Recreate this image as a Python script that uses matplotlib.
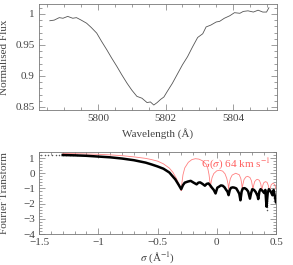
import numpy as np
import matplotlib
matplotlib.use("Agg")
import matplotlib.pyplot as plt
from matplotlib.ticker import MultipleLocator, FuncFormatter

# spectrum around the line
wave = [5798.57, 5798.7, 5798.85, 5798.96, 5799.1, 5799.25, 5799.36, 5799.5,
        5799.66, 5799.8, 5799.96, 5800.1, 5800.26, 5800.4, 5800.56, 5800.7,
        5800.86, 5801.0, 5801.15, 5801.3, 5801.45, 5801.55, 5801.65, 5801.75,
        5801.85, 5801.95, 5802.05, 5802.2, 5802.35, 5802.5, 5802.65, 5802.8,
        5802.95, 5803.1, 5803.2, 5803.34, 5803.5, 5803.6, 5803.74, 5803.9,
        5804.04, 5804.2, 5804.3, 5804.44, 5804.6, 5804.74, 5804.88, 5804.99,
        5805.06]
flux = [0.989, 0.990, 0.994, 0.993, 0.996, 0.993, 0.994, 0.990,
        0.985, 0.978, 0.969, 0.956, 0.942, 0.929, 0.915, 0.902,
        0.888, 0.877, 0.867, 0.864, 0.857, 0.858, 0.853, 0.857,
        0.862, 0.866, 0.875, 0.888, 0.903, 0.918, 0.931, 0.947,
        0.962, 0.968, 0.979, 0.982, 0.987, 0.988, 0.993, 0.997,
        1.002, 1.001, 1.004, 1.005, 1.003, 1.006, 1.003, 1.003,
        1.010]

# Fourier transform of the profile (log amplitude)
ft_sig = [-1.3, -1.2, -1.1, -1.0, -0.9, -0.8, -0.7, -0.6, -0.55, -0.5,
          -0.45, -0.4, -0.35, -0.32, -0.3, -0.285, -0.27, -0.245, -0.22,
          -0.195, -0.17, -0.155, -0.14, -0.12, -0.1, -0.085, -0.07, -0.055,
          -0.04, -0.025, -0.01, 0.005, 0.02, 0.035, 0.05, 0.065, 0.08, 0.09,
          0.1, 0.11, 0.12, 0.135, 0.15, 0.165, 0.18, 0.19, 0.2, 0.21, 0.22,
          0.235, 0.25, 0.265, 0.28, 0.29, 0.3, 0.315, 0.33, 0.345, 0.35,
          0.36, 0.37, 0.385, 0.4, 0.41, 0.42, 0.43, 0.44, 0.455, 0.47,
          0.48, 0.49, 0.5]
ft_amp = [1.2, 1.18, 1.15, 1.1, 1.05, 0.97, 0.86, 0.7, 0.58, 0.45,
          0.3, 0.05, -0.4, -0.78, -1.05, -0.78, -0.62, -0.55, -0.5,
          -0.62, -0.73, -0.62, -0.6, -0.7, -0.82, -0.7, -0.67, -0.8,
          -0.96, -1.1, -1.33, -0.95, -0.88, -0.8, -0.82, -0.92, -1.1, -1.2,
          -1.44, -1.1, -0.96, -0.93, -0.95, -1.0, -1.2, -1.35, -1.78, -1.2,
          -1.0, -0.98, -1.05, -1.2, -1.67, -1.3, -1.05, -1.1, -1.25, -1.5,
          -1.7, -1.2, -1.05, -1.15, -1.3, -1.1, -2.2, -1.3, -1.05, -1.2,
          -1.45, -1.1, -1.5, -1.9]

# low-frequency points and scattered points near the end
pts_sig = [-1.48, -1.45, -1.42, -1.39, -1.36, -1.33, -1.30, -1.27, -1.24,
           -1.21, -1.18, 0.42, 0.42, 0.42, 0.42, 0.42, 0.49, 0.49, 0.49]
pts_amp = [1.22, 1.22, 1.22, 1.22, 1.21, 1.21, 1.21, 1.2, 1.2,
           1.2, 1.19, -1.8, -1.95, -2.1, -2.25, -2.4, -1.6, -1.75, -1.9]

# rotational broadening function G(sigma), vsini = 64 km/s
g_sig = [-1.3, -1.2, -1.1, -1.0, -0.9, -0.8, -0.7, -0.6, -0.55, -0.5,
         -0.45, -0.4, -0.37, -0.34, -0.32, -0.305, -0.3,
         -0.295, -0.285, -0.27, -0.24, -0.21, -0.18, -0.15, -0.12, -0.09,
         -0.075, -0.065, -0.058, -0.055,
         -0.05, -0.04, -0.025, 0.0, 0.025, 0.05, 0.07, 0.085, 0.095, 0.1,
         0.105, 0.115, 0.13, 0.16, 0.19, 0.203, 0.21, 0.215,
         0.22, 0.23, 0.245, 0.26, 0.28, 0.293, 0.3, 0.305,
         0.31, 0.32, 0.335, 0.345, 0.36, 0.372, 0.38,
         0.385, 0.395, 0.41, 0.425, 0.437, 0.444,
         0.45, 0.46, 0.475, 0.49, 0.5]
g_amp = [1.3, 1.29, 1.27, 1.25, 1.21, 1.16, 1.08, 0.98, 0.9, 0.8,
         0.62, 0.34, 0.06, -0.35, -0.7, -1.0, -1.15,
         -0.7, -0.1, 0.35, 0.72, 0.9, 0.96, 0.93, 0.82, 0.6,
         0.3, -0.1, -0.55, -0.95,
         -0.7, -0.3, -0.02, 0.16, 0.2, 0.14, -0.04, -0.35, -0.7, -1.05,
         -0.7, -0.35, -0.12, 0.0, -0.1, -0.35, -0.65, -1.05,
         -0.75, -0.42, -0.25, -0.2, -0.28, -0.5, -0.8, -1.1,
         -0.85, -0.55, -0.42, -0.4, -0.47, -0.72, -1.15,
         -0.9, -0.64, -0.55, -0.6, -0.85, -1.2,
         -1.0, -0.75, -0.65, -0.75, -1.05]

plt.rcParams['font.family'] = 'Liberation Serif'
plt.rcParams['font.size'] = 8
plt.rcParams['mathtext.fontset'] = 'stix'
fc = '#444444'

fig = plt.figure(figsize=(2.93, 2.65), dpi=100)
ax1 = fig.add_axes([39/293, 1-110/265, 238/293, 106/265])
ax2 = fig.add_axes([39/293, 1-234/265, 237/293, 82/265])

ax1.plot(wave, flux, color='#555555', lw=0.6)
ax1.set_xlim(5798.25, 5805.3)
ax1.set_ylim(0.845, 1.016)
ax1.xaxis.set_major_locator(MultipleLocator(2))
ax1.xaxis.set_minor_locator(MultipleLocator(0.5))
ax1.yaxis.set_major_locator(MultipleLocator(0.05))
ax1.yaxis.set_minor_locator(MultipleLocator(0.01))
ax1.yaxis.set_major_formatter(FuncFormatter(lambda v, p: '%g' % round(v, 3)))
ax1.set_xlabel('Wavelength (Å)', color=fc)
ax1.set_ylabel('Normalised Flux', color=fc)
ax1.xaxis.set_label_coords(0.5, -0.17)
ax1.yaxis.set_label_coords(-0.125, 0.5)

ax2.plot(g_sig, g_amp, color='#ff8080', lw=0.6)
ax2.plot(ft_sig, ft_amp, color='black', lw=1.8)
ax2.scatter(pts_sig, pts_amp, s=1.2, color='#555555', lw=0)
ax2.text(-0.13, 0.4, r'G($\sigma$) 64 km s$^{-1}$', color='#ff6060', fontsize=8)
ax2.set_xlim(-1.5, 0.5)
ax2.set_ylim(-4, 1.4)
ax2.xaxis.set_major_locator(MultipleLocator(0.5))
ax2.xaxis.set_minor_locator(MultipleLocator(0.1))
ax2.yaxis.set_major_locator(MultipleLocator(1))
ax2.yaxis.set_minor_locator(MultipleLocator(0.2))
ax2.xaxis.set_major_formatter(FuncFormatter(lambda v, p: ('%g' % round(v, 2)).replace('-', '\u2212')))
ax2.yaxis.set_major_formatter(FuncFormatter(lambda v, p: ('%g' % round(v, 2)).replace('-', '\u2212')))
ax2.set_xlabel(r'$\sigma$ (Å$^{-1}$)', color=fc)
ax2.set_ylabel('Fourier Transform', color=fc)
ax2.xaxis.set_label_coords(0.5, -0.2)
ax2.yaxis.set_label_coords(-0.125, 0.5)

for ax in (ax1, ax2):
    ax.tick_params(which='both', direction='in', top=True, right=True,
                   color='#777777', labelcolor=fc, width=0.5, pad=3)
    ax.tick_params(which='major', length=4)
    ax.tick_params(which='minor', length=2)
    for s in ax.spines.values():
        s.set_color('#777777')
        s.set_linewidth(0.6)

fig.savefig('out.png', dpi=100)
